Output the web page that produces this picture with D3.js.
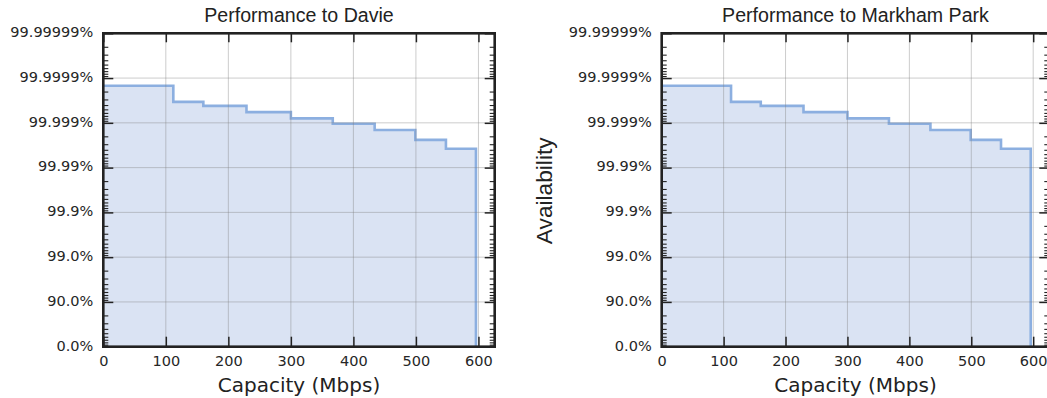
<!DOCTYPE html>
<html>
<head>
<meta charset="utf-8">
<script src="https://cdn.jsdelivr.net/npm/d3@7"></script>
<style>
  body { margin: 0; background: #fff; }
  svg { display: block; }
</style>
</head>
<body>
<svg id="chart" width="1047" height="398"></svg>
<script>
// Step curve: availability achieved at or above each capacity level
const capacityMbps = [0, 112, 160, 229, 300, 367, 434, 499, 548, 596];
const availabilityPct = [99.999852, 99.99966, 99.999583, 99.999425, 99.999206,
                         99.998953, 99.998555, 99.9976, 99.9962, 0];
const sites = ["Davie", "Markham Park"];
const xTicks = [0, 100, 200, 300, 400, 500, 600];
const yTickLabels = ["0.0%", "90.0%", "99.0%", "99.9%", "99.99%", "99.999%", "99.9999%", "99.99999%"];
const xMax = 626;

// "Nines" transform: 90% -> 1, 99% -> 2, ...
const nines = p => p <= 0 ? 0 : -Math.log10(1 - p / 100);

const majorY = yTickLabels.map((d, i) => i);
const minorY = [];
for (let n = 0; n < yTickLabels.length - 1; n++) {
  for (let k = 2; k <= 9; k++) minorY.push(n + 1 - Math.log10(k));
}

const points = capacityMbps.map((c, i) => ({ c, a: availabilityPct[i] }));

const svg = d3.select("#chart");
const plotTop = 33.3, plotBottom = 346.7;

const panels = [
  { site: sites[0], left: 103.3, width: 391.4, yTitle: false },
  { site: sites[1], left: 661.7, width: 387.6, yTitle: true }
];

panels.forEach((p, idx) => {
  const x = d3.scaleLinear().domain([0, xMax]).range([p.left, p.left + p.width]);
  const y = d3.scaleLinear().domain([0, yTickLabels.length - 1]).range([plotBottom, plotTop]);
  const g = svg.append("g");
  const clipId = "clip" + idx;
  g.append("clipPath").attr("id", clipId).append("rect")
    .attr("x", p.left).attr("y", plotTop).attr("width", p.width).attr("height", plotBottom - plotTop);

  const plot = g.append("g").attr("clip-path", `url(#${clipId})`);

  const area = d3.area()
    .x(d => x(d.c)).y0(y(0)).y1(d => y(nines(d.a)))
    .curve(d3.curveStepAfter);
  const line = d3.line()
    .x(d => x(d.c)).y(d => y(nines(d.a)))
    .curve(d3.curveStepAfter);

  plot.append("path").datum(points).attr("d", area)
    .attr("fill", "#dae3f3");

  plot.append("path").datum(points).attr("d", line)
    .attr("fill", "none").attr("stroke", "#8cafe0").attr("stroke-width", 2.6);

  // grid
  const grid = plot.append("g").attr("stroke", "#808080").attr("stroke-opacity", 0.4).attr("stroke-width", 1);
  grid.selectAll("line.gx").data(xTicks.filter(v => v > 0)).join("line")
    .attr("x1", d => x(d)).attr("x2", d => x(d)).attr("y1", plotTop).attr("y2", plotBottom);
  grid.selectAll("line.gy").data(majorY.filter(v => v > 0 && v < 7)).join("line")
    .attr("y1", d => y(d)).attr("y2", d => y(d)).attr("x1", p.left).attr("x2", p.left + p.width);

  const styleAxis = (sel, w) => {
    sel.select(".domain").remove();
    sel.selectAll(".tick line").attr("stroke", "#222").attr("stroke-width", w);
  };

  // bottom axis with labels
  const ax = g.append("g").attr("transform", `translate(0,${plotBottom})`)
    .call(d3.axisBottom(x).tickValues(xTicks).tickSize(-10).tickPadding(0).tickFormat(d3.format("d")));
  styleAxis(ax, 1.5);
  ax.selectAll(".tick text").attr("y", 0).attr("dy", 0).attr("transform", "translate(0,18.8)")
    .attr("font-family", "DejaVu Sans").attr("font-size", 14.5).attr("fill", "#262626");

  // top axis ticks
  const axt = g.append("g").attr("transform", `translate(0,${plotTop})`)
    .call(d3.axisTop(x).tickValues(xTicks).tickSize(-9).tickFormat(""));
  styleAxis(axt, 1.5);

  // left axis: majors with labels, minors
  const ay = g.append("g").attr("transform", `translate(${p.left},0)`)
    .call(d3.axisLeft(y).tickValues(majorY).tickSize(-10).tickPadding(10)
      .tickFormat(i => yTickLabels[i]));
  styleAxis(ay, 1.5);
  ay.selectAll(".tick text").attr("dy", 0).attr("y", 3.3)
    .attr("font-family", "DejaVu Sans").attr("font-size", 14.5).attr("fill", "#262626");
  const aym = g.append("g").attr("transform", `translate(${p.left},0)`)
    .call(d3.axisLeft(y).tickValues(minorY).tickSize(-5).tickFormat(""));
  styleAxis(aym, 1.1);

  // right axis ticks
  const ar = g.append("g").attr("transform", `translate(${p.left + p.width},0)`)
    .call(d3.axisRight(y).tickValues(majorY).tickSize(-10).tickFormat(""));
  styleAxis(ar, 1.5);
  const arm = g.append("g").attr("transform", `translate(${p.left + p.width},0)`)
    .call(d3.axisRight(y).tickValues(minorY).tickSize(-5).tickFormat(""));
  styleAxis(arm, 1.1);

  // frame
  g.append("rect").attr("x", p.left).attr("y", plotTop).attr("width", p.width).attr("height", plotBottom - plotTop)
    .attr("fill", "none").attr("stroke", "#222").attr("stroke-width", 2.6);

  // title
  g.append("text").attr("x", p.left + p.width / 2).attr("y", 21.7).attr("text-anchor", "middle")
    .attr("font-family", "Liberation Sans, Arial, sans-serif").attr("font-size", 19.6).attr("fill", "#222")
    .text("Performance to " + p.site);

  // x title
  g.append("text").attr("x", p.left + p.width / 2).attr("y", 391.7).attr("text-anchor", "middle")
    .attr("font-family", "DejaVu Sans").attr("font-size", 20).attr("fill", "#222")
    .text("Capacity (Mbps)");

  if (p.yTitle) {
    g.append("text").attr("transform", `translate(551.7,190.8) rotate(-90)`).attr("text-anchor", "middle")
      .attr("font-family", "Liberation Sans, Arial, sans-serif").attr("font-size", 22.7).attr("fill", "#222")
      .text("Availability");
  }
});
</script>
</body>
</html>
